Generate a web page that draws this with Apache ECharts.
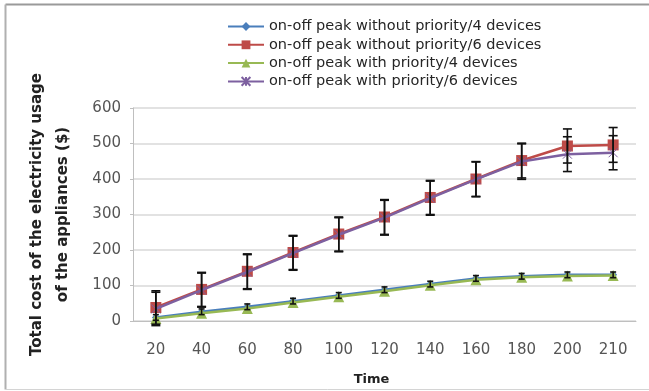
<!DOCTYPE html>
<html>
<head>
<meta charset="utf-8">
<script src="https://cdn.jsdelivr.net/npm/echarts@6/dist/echarts.min.js"></script>
<style>
  html, body { margin: 0; padding: 0; background: #fff; }
  #chart { width: 649px; height: 391px; }
</style>
</head>
<body>
<div id="chart"></div>
<script>
// Time steps on the x axis
const times = ['20', '40', '60', '80', '100', '120', '140', '160', '180', '200', '210'];

// Total cost ($) per scenario
const noPrio4 = [10, 26, 40, 56, 72, 88, 104, 120, 126, 130, 130];
const noPrio6 = [38, 89, 140, 193, 245, 293, 348, 400, 452, 493, 496];
const prio4 = [7, 22, 35, 52, 68, 84, 101, 116, 123, 127, 128];
const prio6 = [34, 87, 138, 191, 243, 291, 346, 399, 449, 470, 474];

// Error bar half-widths ($)
const errNoPrio4 = [8, 8, 8, 8, 8, 8, 8, 8, 8, 8, 8];
const errNoPrio6 = [47, 48, 49, 48, 48, 49, 48, 49, 49, 48, 49];
const errPrio6 = [47, 48, 49, 48, 48, 49, 48, 49, 50, 49, 48];

const seriesNames = [
  'on-off peak without priority/4 devices',
  'on-off peak without priority/6 devices',
  'on-off peak with priority/4 devices',
  'on-off peak with priority/6 devices'
];

const colors = ['#4a7ebb', '#be4b48', '#98b954', '#7d60a0'];
const FONT = 'DejaVu Sans';

const crossPath = 'path://M0,0 L10,10 M10,0 L0,10 M5,0 L5,10';

function errorSeries(values, errs, capHalf) {
  return {
    type: 'custom',
    z: 10,
    silent: true,
    data: values.map((v, i) => [i, v - errs[i], v + errs[i]]),
    renderItem: function (params, api) {
      const lo = api.coord([api.value(0), api.value(1)]);
      const hi = api.coord([api.value(0), api.value(2)]);
      const st = { stroke: '#111', lineWidth: 1.6 };
      return {
        type: 'group',
        children: [
          { type: 'line', shape: { x1: hi[0], y1: hi[1], x2: lo[0], y2: lo[1] }, style: st },
          { type: 'line', shape: { x1: hi[0] - capHalf, y1: hi[1], x2: hi[0] + capHalf, y2: hi[1] }, style: st },
          { type: 'line', shape: { x1: lo[0] - capHalf, y1: lo[1], x2: lo[0] + capHalf, y2: lo[1] }, style: st }
        ]
      };
    }
  };
}

const chart = echarts.init(document.getElementById('chart'), null, { renderer: 'canvas' });

chart.setOption({
  animation: false,
  backgroundColor: '#fff',
  color: colors,
  graphic: [
    { type: 'line', shape: { x1: 5.5, y1: 4.5, x2: 649, y2: 4.5 }, style: { stroke: '#9a9a9a', lineWidth: 2 } },
    { type: 'line', shape: { x1: 5.5, y1: 4.5, x2: 5.5, y2: 389.5 }, style: { stroke: '#b0b0b0', lineWidth: 2 } },
    { type: 'line', shape: { x1: 5.5, y1: 389.5, x2: 649, y2: 389.5 }, style: { stroke: '#d4d4d4', lineWidth: 1 } }
  ],
  legend: {
    orient: 'vertical',
    left: 227,
    top: 19,
    padding: 0,
    itemWidth: 36,
    itemHeight: 11,
    itemGap: 3.3,
    textStyle: { fontFamily: FONT, fontSize: 14.5, color: '#262626' },
    data: seriesNames
  },
  grid: { left: 133, right: 13, top: 108, bottom: 69 },
  xAxis: {
    type: 'category',
    data: times,
    boundaryGap: true,
    name: 'Time',
    nameLocation: 'middle',
    nameGap: 52,
    nameTextStyle: { fontFamily: FONT, fontSize: 13, fontWeight: 'bold', color: '#222', padding: [0, 26, 0, 0] },
    axisLine: { lineStyle: { color: '#bfbfbf' } },
    axisTick: { show: false },
    axisLabel: { margin: 22, fontFamily: FONT, fontSize: 15, color: '#555' }
  },
  yAxis: {
    type: 'value',
    min: 0,
    max: 600,
    interval: 100,
    name: 'Total cost of the electricity usage\nof the appliances ($)',
    nameLocation: 'middle',
    nameRotate: 90,
    nameGap: 57,
    nameTextStyle: { fontFamily: FONT, fontSize: 15, fontWeight: 'bold', color: '#222', lineHeight: 26 },
    axisLine: { show: true, lineStyle: { color: '#bfbfbf' } },
    axisTick: { show: true, length: 3, lineStyle: { color: '#bfbfbf' } },
    axisLabel: { margin: 12, fontFamily: FONT, fontSize: 15, color: '#555' },
    splitLine: { lineStyle: { color: '#d9d9d9', width: 1.5 } }
  },
  series: [
    {
      name: seriesNames[0], type: 'line', data: noPrio4, z: 3,
      symbol: 'diamond', symbolSize: 8,
      lineStyle: { width: 2.5, color: colors[0] }, itemStyle: { color: colors[0] }
    },
    {
      name: seriesNames[1], type: 'line', data: noPrio6, z: 3,
      symbol: 'rect', symbolSize: 11,
      lineStyle: { width: 2.5, color: colors[1] }, itemStyle: { color: colors[1] }
    },
    {
      name: seriesNames[2], type: 'line', data: prio4, z: 4,
      symbol: 'triangle', symbolSize: 11,
      lineStyle: { width: 2.5, color: colors[2] }, itemStyle: { color: colors[2] }
    },
    {
      name: seriesNames[3], type: 'line', data: prio6, z: 4,
      symbol: crossPath, symbolSize: 9,
      lineStyle: { width: 2.5, color: colors[3] },
      itemStyle: { color: 'none', borderColor: colors[3], borderWidth: 1 }
    },
    errorSeries(noPrio4, errNoPrio4, 3),
    errorSeries(noPrio6, errNoPrio6, 4.5),
    errorSeries(prio6, errPrio6, 4.5)
  ]
});
</script>
</body>
</html>
